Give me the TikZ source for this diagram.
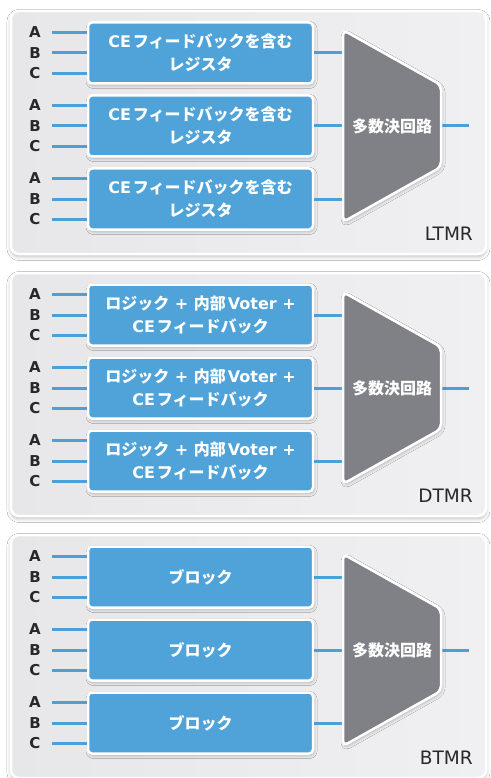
\documentclass[tikz,border=0pt]{standalone}
\usepackage{fontspec}
\newfontfamily\jp{Noto Sans CJK JP}
\newfontfamily\lat{DejaVu Sans}
\usetikzlibrary{shadows.blur}
\definecolor{boxblue}{RGB}{80,163,217}
\definecolor{wireblue}{RGB}{76,160,214}
\definecolor{trapgray}{RGB}{128,129,134}
\definecolor{panL}{RGB}{231,231,234}
\definecolor{panR}{RGB}{240,240,242}
\definecolor{labtext}{RGB}{40,40,40}
\tikzset{
  panel/.style={rounded corners=8pt, draw=white, line width=2.5pt, left color=panL, right color=panR,
    blur shadow={shadow xshift=0pt, shadow yshift=-2.5pt, shadow blur radius=4pt, shadow opacity=28}},
  box/.style={rectangle, rounded corners=4pt, fill=boxblue, draw=white, line width=2.5pt,
    minimum width=225pt, minimum height=61pt, inner sep=0pt, text=white, align=center,
    font=\jp\bfseries\fontsize{16}{22.5}\selectfont,
    blur shadow={shadow xshift=1pt, shadow yshift=-2pt, shadow blur radius=3pt, shadow opacity=25}},
  trap/.style={rounded corners=5pt, fill=trapgray, draw=white, line width=2.5pt,
    blur shadow={shadow xshift=1pt, shadow yshift=-2pt, shadow blur radius=3pt, shadow opacity=25}},
  wire/.style={draw=wireblue, line width=3pt},
  abc/.style={inner sep=0pt, font=\lat\bfseries\fontsize{15}{17}\selectfont, text=labtext},
  vote/.style={inner sep=0pt, text=white, font=\jp\bfseries\fontsize{16}{18}\selectfont},
  tmr/.style={inner sep=0pt, anchor=east, text=labtext, font=\lat\fontsize{18.5}{21}\selectfont}
}
\begin{document}
\begin{tikzpicture}[x=1pt,y=-1pt]
\useasboundingbox (0,0) rectangle (490,778);
\fill[white] (0,0) rectangle (490,778);
\foreach \d/\lab/\txt in {
  0/LTMR/{{\lat CE}\hspace{2pt}フィードバックを含む\\レジスタ},
  262/DTMR/{ロジック{\lat{} + }内部\hspace{2pt}{\lat Voter +}\\{\lat CE}\hspace{2pt}フィードバック},
  524/BTMR/{ブロック}}{
  \path[panel] (11,11+\d) rectangle (486,254+\d);
  \coordinate (tl\d) at (343,126+\d);
  \coordinate (tr\d) at (441,126+\d);
  \coordinate (o\d) at (469,126+\d);
  \foreach \i/\c in {1/53,2/126,3/199}{
    \node[box] (b\d-\i) at (200.5,\c+\d) {\txt};
    \foreach \k/\L in {-1/A,0/B,1/C}{
      \node[abc] (l\d-\i-\L) at (35,\c+\d+20.5*\k) {\L};
      \coordinate (s\d-\i-\L) at (52,\c+\d+20.5*\k);
      \draw[wire] (s\d-\i-\L) -- (s\d-\i-\L -| b\d-\i.west);
    }
    \draw[wire] (b\d-\i.east) -- (b\d-\i.east -| tl\d);
  }
  \draw[wire] (tr\d) -- (o\d);
  \path[trap] (343,30+\d) -- (441,85+\d) -- (441,167+\d) -- (343,222+\d) -- cycle;
  \node[vote] (v\d) at (392,126+\d) {多数決回路};
  \node[tmr] (t\d) at (473,234+\d) {\lab};
}
\end{tikzpicture}
\end{document}
